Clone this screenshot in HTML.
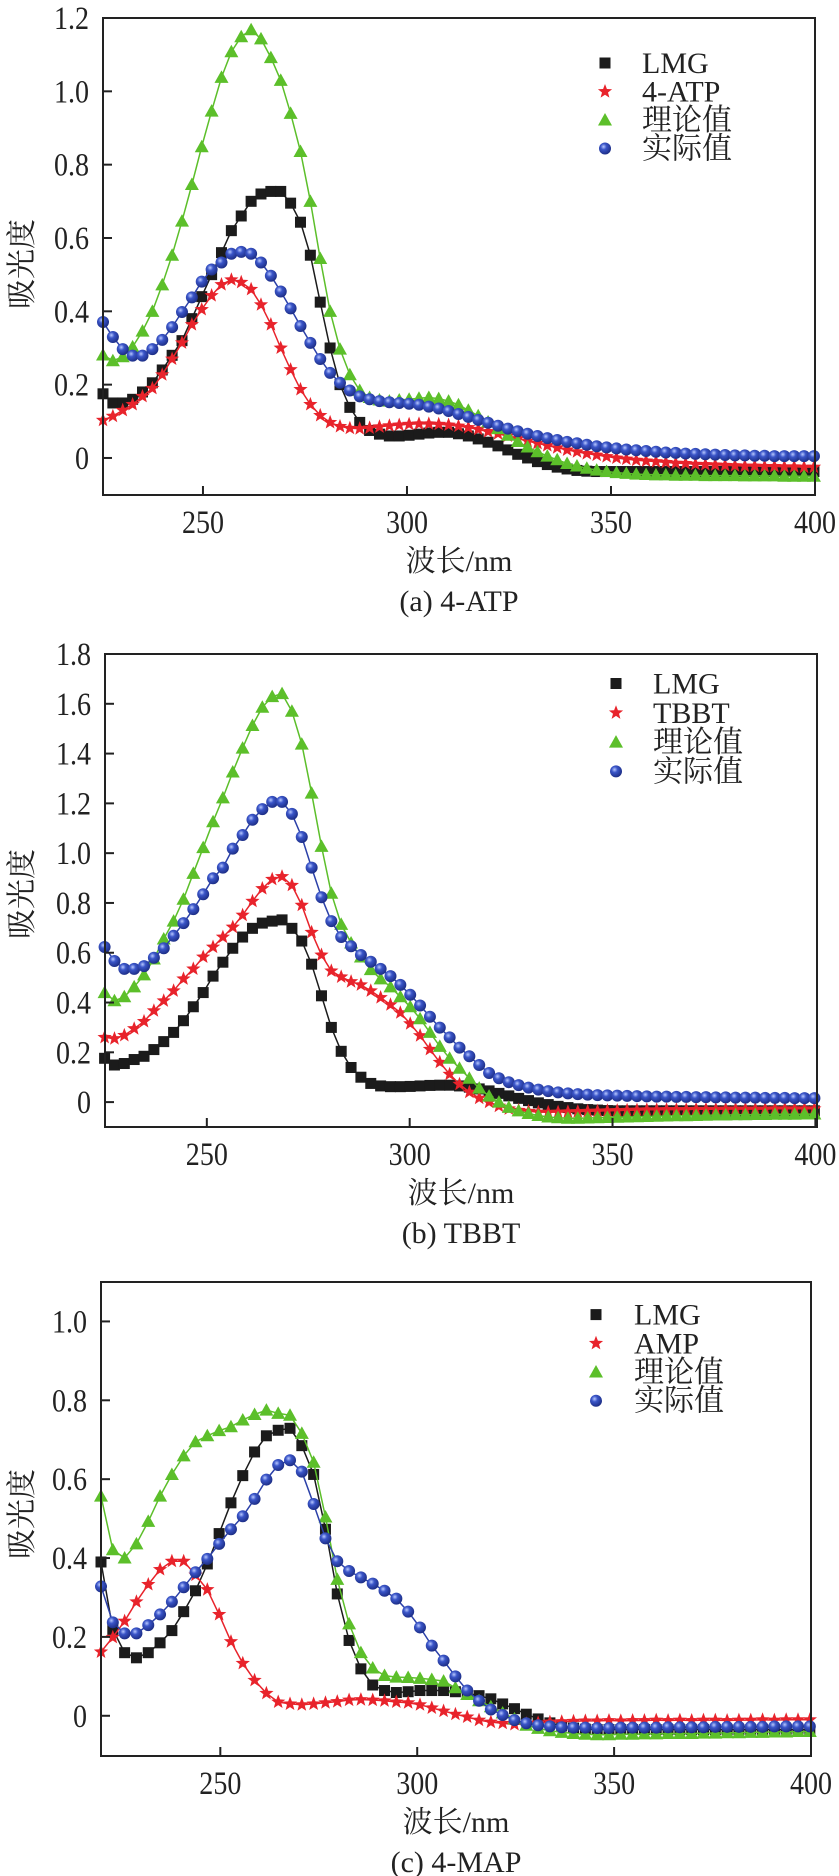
<!DOCTYPE html>
<html><head><meta charset="utf-8"><style>
html,body{margin:0;padding:0;background:#fff;}
svg{display:block;}
text{font-family:"Liberation Serif","Noto Serif CJK SC","Noto Sans CJK SC",serif;fill:#222;}
</style></head><body>
<svg id="fig" width="839" height="1876" viewBox="0 0 839 1876" xmlns="http://www.w3.org/2000/svg">
<defs>
<radialGradient id="ballGrad" cx="0.38" cy="0.35" r="0.7">
<stop offset="0" stop-color="#b8c8ff"/><stop offset="0.35" stop-color="#3a55c8"/><stop offset="1" stop-color="#1a2a80"/>
</radialGradient>
</defs>
</svg>
<script>
// ---- Panel (a) 4-ATP ----
const aLMG=[.175,.15,.15,.16,.18,.205,.24,.28,.32,.38,.44,.50,.56,.62,.66,.70,.72,.727,.727,.695,.643,.553,.425,.30,.20,.138,.097,.075,.065,.06,.06,.062,.065,.068,.07,.07,.066,.06,.052,.043,.033,.022,.01,0,-.01,-.018,-.025,-.03,-.034,-.036,-.037,-.037,-.037,-.037,-.037,-.037,-.037,-.037,-.037,-.037,-.037,-.037,-.037,-.037,-.037,-.037,-.037,-.037,-.037,-.037,-.037,-.037,-.037];
const aSample=[.103,.114,.13,.146,.168,.19,.227,.27,.314,.364,.405,.443,.473,.486,.479,.46,.418,.364,.30,.241,.187,.146,.116,.097,.086,.081,.08,.082,.085,.088,.09,.092,.093,.093,.092,.09,.087,.083,.078,.072,.066,.06,.053,.046,.04,.034,.028,.022,.017,.012,.008,.004,0,-.003,-.006,-.008,-.01,-.012,-.014,-.015,-.017,-.018,-.019,-.02,-.021,-.022,-.022,-.023,-.023,-.024,-.024,-.025,-.025];
const aTheory=[.281,.265,.276,.303,.346,.40,.472,.553,.646,.746,.849,.946,1.038,1.108,1.149,1.168,1.143,1.092,1.03,.94,.836,.70,.544,.40,.297,.227,.184,.165,.158,.155,.158,.16,.163,.165,.162,.155,.145,.13,.115,.098,.08,.062,.045,.03,.017,.005,-.005,-.015,-.022,-.028,-.033,-.037,-.04,-.042,-.044,-.045,-.046,-.046,-.047,-.047,-.047,-.048,-.048,-.048,-.048,-.049,-.049,-.049,-.049,-.05,-.05,-.05,-.05];
const aActual=[.371,.33,.297,.279,.279,.297,.322,.357,.398,.438,.481,.514,.533,.557,.562,.557,.533,.497,.454,.408,.36,.314,.27,.232,.205,.184,.168,.16,.155,.152,.15,.148,.145,.14,.135,.128,.12,.112,.104,.096,.088,.08,.073,.066,.06,.054,.049,.044,.04,.036,.032,.029,.026,.023,.021,.019,.017,.015,.014,.012,.011,.01,.009,.008,.007,.007,.006,.006,.005,.005,.005,.005,.005];
// ---- Panel (b) TBBT ----
const bLMG=[.176,.149,.155,.171,.184,.211,.243,.28,.327,.383,.44,.506,.562,.618,.663,.698,.719,.727,.732,.698,.647,.554,.427,.30,.204,.139,.10,.075,.065,.062,.062,.063,.065,.067,.068,.068,.065,.06,.053,.045,.035,.025,.015,.006,-.003,-.01,-.017,-.022,-.027,-.03,-.032,-.034,-.035,-.035,-.035,-.035,-.035,-.035,-.035,-.035,-.035,-.035,-.035,-.035,-.035,-.035,-.035,-.035,-.035,-.035,-.035,-.035,-.035];
const bSample=[.26,.255,.268,.295,.324,.367,.407,.447,.495,.535,.583,.623,.663,.703,.751,.807,.858,.895,.906,.871,.791,.682,.591,.527,.503,.484,.471,.447,.42,.391,.359,.315,.267,.212,.16,.112,.072,.04,.016,0,-.016,-.027,-.033,-.037,-.04,-.041,-.04,-.039,-.038,-.037,-.036,-.035,-.034,-.033,-.032,-.031,-.031,-.03,-.03,-.03,-.029,-.029,-.029,-.028,-.028,-.028,-.028,-.028,-.027,-.027,-.027,-.027,-.027];
const bTheory=[.44,.407,.423,.463,.511,.575,.655,.727,.815,.919,1.022,1.126,1.222,1.326,1.422,1.513,1.586,1.629,1.641,1.57,1.438,1.241,1.027,.839,.714,.639,.583,.532,.495,.463,.423,.383,.335,.28,.224,.176,.136,.096,.056,.024,0,-.021,-.035,-.046,-.054,-.06,-.063,-.065,-.065,-.064,-.063,-.062,-.061,-.06,-.059,-.058,-.057,-.056,-.055,-.055,-.054,-.053,-.052,-.052,-.051,-.051,-.05,-.05,-.049,-.049,-.049,-.048,-.048];
const bActual=[.623,.567,.535,.535,.546,.58,.618,.668,.719,.775,.835,.899,.942,1.018,1.073,1.134,1.177,1.206,1.206,1.158,1.065,.942,.823,.727,.663,.626,.591,.564,.535,.506,.471,.431,.388,.343,.299,.26,.219,.184,.149,.117,.096,.08,.068,.058,.05,.044,.039,.035,.032,.03,.028,.027,.026,.025,.024,.023,.022,.022,.021,.021,.02,.02,.019,.019,.018,.018,.018,.017,.017,.017,.016,.016,.016];
// ---- Panel (c) 4-MAP ----
const cLMG=[.39,.219,.16,.147,.16,.185,.216,.264,.317,.385,.462,.54,.609,.669,.71,.724,.729,.685,.612,.473,.309,.191,.119,.078,.064,.059,.061,.064,.064,.064,.061,.057,.051,.043,.03,.018,.004,-.008,-.018,-.026,-.031,-.034,-.035,-.035,-.035,-.035,-.035,-.035,-.035,-.035,-.035,-.035,-.035,-.035,-.035,-.035,-.035,-.035,-.035,-.035,-.035];
const cSample=[.162,.199,.24,.289,.333,.371,.392,.392,.357,.32,.257,.188,.133,.09,.057,.035,.03,.028,.03,.033,.036,.04,.041,.04,.038,.035,.033,.028,.02,.012,.004,-.003,-.011,-.016,-.019,-.022,-.02,-.018,-.016,-.015,-.014,-.013,-.013,-.012,-.013,-.012,-.012,-.011,-.012,-.011,-.012,-.011,-.011,-.012,-.011,-.011,-.01,-.011,-.01,-.01,-.01];
const cTheory=[.557,.421,.40,.436,.493,.557,.612,.659,.695,.71,.723,.733,.75,.764,.775,.767,.762,.716,.643,.504,.346,.233,.16,.121,.102,.098,.097,.095,.092,.088,.071,.054,.038,.023,.007,-.008,-.024,-.032,-.038,-.042,-.045,-.047,-.048,-.048,-.047,-.047,-.046,-.046,-.045,-.045,-.045,-.044,-.044,-.043,-.043,-.042,-.042,-.041,-.041,-.04,-.04];
const cActual=[.328,.237,.209,.209,.23,.257,.289,.326,.364,.398,.436,.473,.506,.55,.599,.636,.648,.619,.537,.45,.392,.367,.351,.335,.317,.297,.264,.224,.178,.14,.10,.064,.038,.016,.002,-.011,-.019,-.024,-.027,-.029,-.03,-.03,-.031,-.031,-.03,-.03,-.03,-.03,-.029,-.029,-.029,-.029,-.028,-.028,-.028,-.028,-.028,-.027,-.027,-.027,-.027];
// wavelength sampling (nm): start and step per panel
const aWave=[225.5,2.42];
const bWave=[224.8,2.43];
const cWave=[219.7,3.0];
const xTicks=[250,300,350,400];
const aYTicks=["0","0.2","0.4","0.6","0.8","1.0","1.2"];
const bYTicks=["0","0.2","0.4","0.6","0.8","1.0","1.2","1.4","1.6","1.8"];
const cYTicks=["0","0.2","0.4","0.6","0.8","1.0"];

const NS="http://www.w3.org/2000/svg";
const svg=document.getElementById('fig');
function mk(tag,attrs,parent){const e=document.createElementNS(NS,tag);for(const k in attrs)e.setAttribute(k,attrs[k]);(parent||svg).appendChild(e);return e;}
function star(cx,cy,R){const r=R*0.42;let p=[];for(let i=0;i<10;i++){const a=-Math.PI/2+i*Math.PI/5;const rr=i%2?r:R;p.push((cx+rr*Math.cos(a)).toFixed(1)+','+(cy+rr*Math.sin(a)).toFixed(1));}return p.join(' ');}
const colors=["#1b1b1b","#e8232b","#5cbf2a","#2b40a8"];
function marker(kind,x,y,g){
  let e;
  if(kind===0){e=mk('rect',{x:x-5.5,y:y-5.5,width:11,height:11,fill:colors[0]},g);}
  else if(kind===1){e=mk('polygon',{points:star(x,y,7.5),fill:colors[1]},g);}
  else if(kind===2){e=mk('polygon',{points:`${x},${y-7} ${x+7},${y+5.5} ${x-7},${y+5.5}`,fill:colors[2]},g);}
  else {e=mk('circle',{cx:x,cy:y,r:6,fill:'url(#ballGrad)'},g);}
  return e;
}
function panel(cfg){
  const g=mk('g',{});
  
  
  const X=v=>cfg.x0+(v-cfg.xmin)/(cfg.xmax-cfg.xmin)*(cfg.x1-cfg.x0);
  const Y=v=>cfg.y1-(v-cfg.ymin)/(cfg.ymax-cfg.ymin)*(cfg.y1-cfg.y0);
  cfg.series.forEach((arr,si)=>{
    const sg=mk('g',{},g);
    
    
    const pts=arr.map((v,i)=>[X(cfg.wave[0]+i*cfg.wave[1]),Y(v)]).filter(p=>p[0]<=cfg.x1+3);
    const line=mk('polyline',{points:pts.map(p=>p[0].toFixed(1)+','+p[1].toFixed(1)).join(' '),fill:'none',stroke:colors[si],'stroke-width':1.5},sg);
    
    
    pts.forEach(p=>{const m=marker(si,p[0],p[1],sg);
      
      });
  });
  const fr=mk('rect',{x:cfg.x0,y:cfg.y0,width:cfg.x1-cfg.x0,height:cfg.y1-cfg.y0,fill:'none',stroke:'#222','stroke-width':2},g);
  
  
  xTicks.forEach(t=>{const x=X(t);
    mk('line',{x1:x,y1:cfg.y1,x2:x,y2:cfg.y1-9,stroke:'#222','stroke-width':2},g);
    const tg=mk('g',{transform:`translate(${x},${cfg.y1+38}) scale(0.85,1)`},g);
    const tx=mk('text',{x:0,y:0,'text-anchor':'middle','font-size':33},tg);tx.textContent=String(t);
    
    
  });
  cfg.yticks.forEach(t=>{const y=Y(parseFloat(t));
    mk('line',{x1:cfg.x0,y1:y,x2:cfg.x0+9,y2:y,stroke:'#222','stroke-width':2},g);
    const tg=mk('g',{transform:`translate(${cfg.x0-14},${y+11}) scale(0.85,1)`},g);
    const tx=mk('text',{x:0,y:0,'text-anchor':'end','font-size':33},tg);tx.textContent=t;
    
    
  });
  const cx=(cfg.x0+cfg.x1)/2;
  const xl=mk('text',{x:cx,y:cfg.y1+76,'text-anchor':'middle','font-size':30},g);xl.textContent='波长/nm';
  
  
  const cap=mk('text',{x:cx,y:cfg.y1+116,'text-anchor':'middle','font-size':30},g);cap.textContent=cfg.caption;
  
  
  const yl=mk('text',{x:0,y:0,'text-anchor':'middle','font-size':30,transform:`translate(32,${cfg.ylabelY}) rotate(-90)`},g);yl.textContent='吸光度';
  
  
  const lg=mk('g',{},g);
  
  
  const labels=['LMG',cfg.sample,'理论值','实际值'];
  labels.forEach((lab,i)=>{const y=cfg.legY+i*cfg.legDy;
    const eg=mk('g',{},lg);
    
    
    marker(i,cfg.legX,y,eg);
    const t=mk('text',{x:cfg.legTX,y:y+10,'font-size':30},eg);t.textContent=lab;
  });
}
panel({name:'panel-a-4atp',id:'a',sample:'4-ATP',caption:'(a) 4-ATP',x0:103,x1:815,y0:18,y1:495,xmin:225.5,xmax:400,ymin:-0.101,ymax:1.2,
  wave:aWave,series:[aLMG,aSample,aTheory,aActual],yticks:aYTicks,ylabelY:264,legX:605,legTX:642,legY:63,legDy:28.5});
panel({name:'panel-b-tbbt',id:'b',sample:'TBBT',caption:'(b) TBBT',x0:105,x1:817,y0:654,y1:1127,xmin:224.9,xmax:400.4,ymin:-0.1,ymax:1.8,
  wave:bWave,series:[bLMG,bSample,bTheory,bActual],yticks:bYTicks,ylabelY:894,legX:616,legTX:653,legY:683.5,legDy:29.3});
panel({name:'panel-c-4map',id:'c',sample:'AMP',caption:'(c) 4-MAP',x0:101,x1:811,y0:1282,y1:1756,xmin:219.7,xmax:400,ymin:-0.102,ymax:1.1,
  wave:cWave,series:[cLMG,cSample,cTheory,cActual],yticks:cYTicks,ylabelY:1514,legX:596,legTX:634,legY:1314.6,legDy:28.7});
</script>
</body></html>
